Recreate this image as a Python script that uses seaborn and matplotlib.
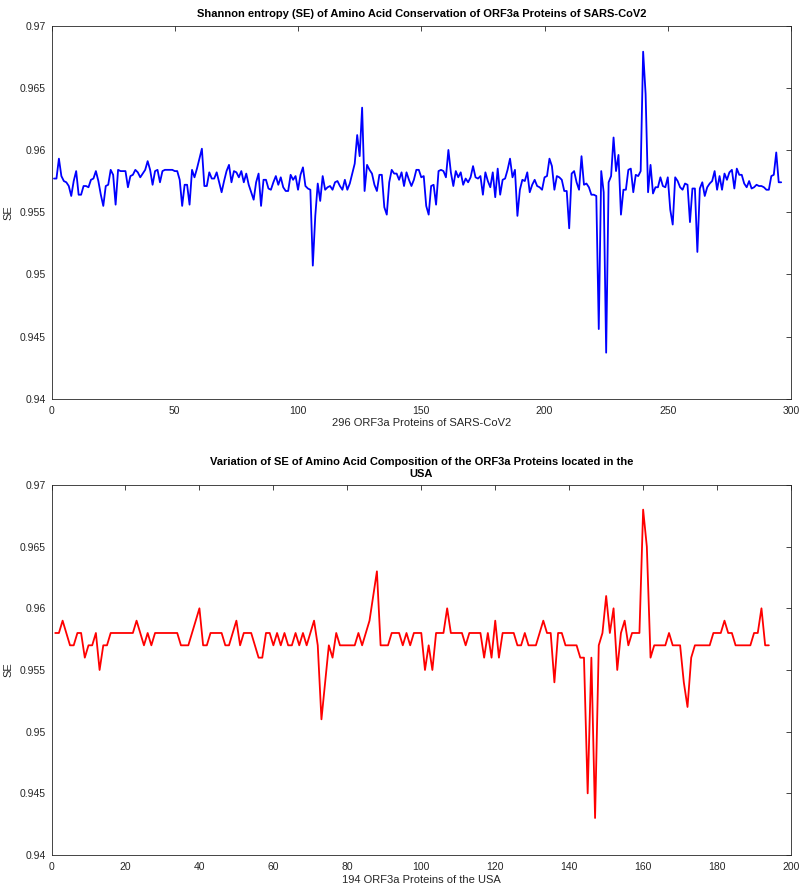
import numpy as np
import pandas as pd
import matplotlib
matplotlib.use("Agg")
import matplotlib.pyplot as plt
import seaborn as sns

# ---------------- data ----------------
se_all = [
    0.9577, 0.9577, 0.9593, 0.9579, 0.9575, 0.9574, 0.9571, 0.9563, 0.9575, 0.9583,
    0.9564, 0.9564, 0.9571, 0.9571, 0.9570, 0.9576, 0.9577, 0.9583, 0.9575, 0.9564,
    0.9555, 0.9571, 0.9572, 0.9584, 0.9580, 0.9556, 0.9584, 0.9583, 0.9583, 0.9583,
    0.9570, 0.9579, 0.9580, 0.9584, 0.9582, 0.9578, 0.9581, 0.9584, 0.9591, 0.9584,
    0.9572, 0.9583, 0.9584, 0.9574, 0.9583, 0.9584, 0.9584, 0.9584, 0.9584, 0.9583,
    0.9583, 0.9576, 0.9555, 0.9572, 0.9572, 0.9556, 0.9584, 0.9578, 0.9585, 0.9593,
    0.9601, 0.9571, 0.9571, 0.9582, 0.9577, 0.9577, 0.9582, 0.9574, 0.9566, 0.9575,
    0.9583, 0.9588, 0.9574, 0.9583, 0.9582, 0.9578, 0.9583, 0.9574, 0.9581, 0.9572,
    0.9566, 0.9560, 0.9574, 0.9581, 0.9555, 0.9576, 0.9576, 0.9569, 0.9568, 0.9574,
    0.9579, 0.9572, 0.9578, 0.9570, 0.9567, 0.9567, 0.9580, 0.9576, 0.9579, 0.9568,
    0.9580, 0.9586, 0.9571, 0.9569, 0.9568, 0.9507, 0.9547, 0.9573, 0.9559, 0.9579,
    0.9568, 0.9570, 0.9571, 0.9568, 0.9574, 0.9575, 0.9571, 0.9568, 0.9576, 0.9568,
    0.9573, 0.9581, 0.9589, 0.9612, 0.9595, 0.9634, 0.9567, 0.9588, 0.9584, 0.9581,
    0.9572, 0.9567, 0.9580, 0.9580, 0.9554, 0.9548, 0.9574, 0.9584, 0.9581, 0.9581,
    0.9576, 0.9582, 0.9571, 0.9582, 0.9576, 0.9571, 0.9576, 0.9584, 0.9584, 0.9578,
    0.9579, 0.9555, 0.9548, 0.9571, 0.9572, 0.9556, 0.9583, 0.9584, 0.9583, 0.9578,
    0.9600, 0.9582, 0.9571, 0.9583, 0.9578, 0.9582, 0.9572, 0.9577, 0.9574, 0.9578,
    0.9587, 0.9578, 0.9577, 0.9579, 0.9564, 0.9582, 0.9575, 0.9570, 0.9582, 0.9562,
    0.9585, 0.9564, 0.9576, 0.9577, 0.9584, 0.9593, 0.9578, 0.9584, 0.9547, 0.9568,
    0.9576, 0.9575, 0.9582, 0.9566, 0.9572, 0.9576, 0.9571, 0.9570, 0.9568, 0.9578,
    0.9579, 0.9593, 0.9587, 0.9568, 0.9579, 0.9578, 0.9576, 0.9567, 0.9567, 0.9537,
    0.9581, 0.9583, 0.9574, 0.9568, 0.9595, 0.9572, 0.9573, 0.9570, 0.9564, 0.9564,
    0.9563, 0.9456, 0.9583, 0.9566, 0.9437, 0.9574, 0.9579, 0.9610, 0.9583, 0.9596,
    0.9548, 0.9568, 0.9568, 0.9584, 0.9585, 0.9566, 0.9580, 0.9579, 0.9583, 0.9679,
    0.9645, 0.9566, 0.9588, 0.9565, 0.9570, 0.9570, 0.9578, 0.9571, 0.9570, 0.9578,
    0.9552, 0.9540, 0.9578, 0.9575, 0.9570, 0.9568, 0.9573, 0.9572, 0.9542, 0.9569,
    0.9569, 0.9518, 0.9569, 0.9574, 0.9563, 0.9570, 0.9573, 0.9575, 0.9583, 0.9568,
    0.9579, 0.9568, 0.9581, 0.9576, 0.9582, 0.9584, 0.9569, 0.9585, 0.9580, 0.9580,
    0.9573, 0.9570, 0.9575, 0.9569, 0.9570, 0.9572, 0.9571, 0.9571, 0.9570, 0.9568,
    0.9568, 0.9579, 0.9580, 0.9598, 0.9574, 0.9574,
]

se_usa = [
    0.958, 0.958, 0.959, 0.958, 0.957, 0.957, 0.958, 0.958, 0.956, 0.957,
    0.957, 0.958, 0.955, 0.957, 0.957, 0.958, 0.958, 0.958, 0.958, 0.958,
    0.958, 0.958, 0.959, 0.958, 0.957, 0.958, 0.957, 0.958, 0.958, 0.958,
    0.958, 0.958, 0.958, 0.958, 0.957, 0.957, 0.957, 0.958, 0.959, 0.960,
    0.957, 0.957, 0.958, 0.958, 0.958, 0.958, 0.957, 0.957, 0.958, 0.959,
    0.957, 0.958, 0.958, 0.958, 0.957, 0.956, 0.956, 0.958, 0.958, 0.957,
    0.958, 0.957, 0.958, 0.957, 0.957, 0.958, 0.957, 0.958, 0.957, 0.958,
    0.959, 0.957, 0.951, 0.954, 0.957, 0.956, 0.958, 0.957, 0.957, 0.957,
    0.957, 0.957, 0.958, 0.957, 0.958, 0.959, 0.961, 0.963, 0.957, 0.957,
    0.957, 0.958, 0.958, 0.958, 0.957, 0.958, 0.957, 0.958, 0.958, 0.958,
    0.955, 0.957, 0.955, 0.958, 0.958, 0.958, 0.960, 0.958, 0.958, 0.958,
    0.958, 0.957, 0.958, 0.958, 0.958, 0.958, 0.956, 0.958, 0.956, 0.959,
    0.956, 0.958, 0.958, 0.958, 0.958, 0.957, 0.957, 0.958, 0.957, 0.957,
    0.957, 0.958, 0.959, 0.958, 0.958, 0.954, 0.958, 0.958, 0.957, 0.957,
    0.957, 0.957, 0.956, 0.956, 0.945, 0.956, 0.943, 0.957, 0.958, 0.961,
    0.958, 0.960, 0.955, 0.958, 0.959, 0.957, 0.958, 0.958, 0.958, 0.968,
    0.965, 0.956, 0.957, 0.957, 0.957, 0.957, 0.958, 0.957, 0.957, 0.957,
    0.954, 0.952, 0.956, 0.957, 0.957, 0.957, 0.957, 0.957, 0.958, 0.958,
    0.958, 0.959, 0.958, 0.958, 0.957, 0.957, 0.957, 0.957, 0.957, 0.958,
    0.958, 0.960, 0.957, 0.957,
]

x_ticks_top = [0, 50, 100, 150, 200, 250, 300]
x_ticks_bottom = [0, 20, 40, 60, 80, 100, 120, 140, 160, 180, 200]
y_ticks = [0.94, 0.945, 0.95, 0.955, 0.96, 0.965, 0.97]
y_tick_labels = ["0.94", "0.945", "0.95", "0.955", "0.96", "0.965", "0.97"]

title_top = "Shannon entropy (SE) of Amino Acid Conservation of ORF3a Proteins of SARS-CoV2"
title_bottom = "Variation of SE of Amino Acid Composition of the ORF3a Proteins located in the\nUSA"
xlabel_top = "296 ORF3a Proteins of SARS-CoV2"
xlabel_bottom = "194 ORF3a Proteins of the USA"

# ---------------- style ----------------
sns.set_theme(style="white")
plt.rcParams["font.family"] = ["Liberation Sans", "DejaVu Sans"]
axis_color = "#262626"

df_top = pd.DataFrame({"protein": np.arange(1, len(se_all) + 1), "SE": se_all})
df_bot = pd.DataFrame({"protein": np.arange(1, len(se_usa) + 1), "SE": se_usa})

fig = plt.figure(figsize=(8.0, 8.85), dpi=100)
ax1 = fig.add_axes([0.0644, 0.5495, 0.9244, 0.4216])
ax2 = fig.add_axes([0.0644, 0.0339, 0.9244, 0.4181])

specs = [
    (ax1, df_top, "#0000ff", x_ticks_top, (0, 300), title_top, xlabel_top),
    (ax2, df_bot, "#ff0000", x_ticks_bottom, (0, 200), title_bottom, xlabel_bottom),
]

for ax, df, col, xt, xlim, title, xlabel in specs:
    sns.lineplot(data=df, x="protein", y="SE", ax=ax, color=col, linewidth=1.3)
    ax.set_xlim(*xlim)
    ax.set_ylim(0.94, 0.97)
    ax.set_xticks(xt)
    ax.set_xticklabels([str(v) for v in xt])
    ax.set_yticks(y_ticks)
    ax.set_yticklabels(y_tick_labels)
    ax.tick_params(direction="in", length=3.5, width=0.6, top=True, right=True,
                   labelsize=7.5, colors=axis_color)
    ax.tick_params(axis="x", pad=5)
    ax.tick_params(axis="y", pad=4)
    for sp in ax.spines.values():
        sp.set_visible(True)
        sp.set_color(axis_color)
        sp.set_linewidth(0.6)
    ax.set_title(title, fontsize=8, fontweight="bold", color="black", pad=6,
                 linespacing=1.25)
    ax.set_xlabel(xlabel, fontsize=8, color=axis_color, labelpad=2)
    ax.set_ylabel("SE", fontsize=8, color=axis_color, labelpad=5)
    ax.grid(False)

fig.savefig("out.png", dpi=100)
